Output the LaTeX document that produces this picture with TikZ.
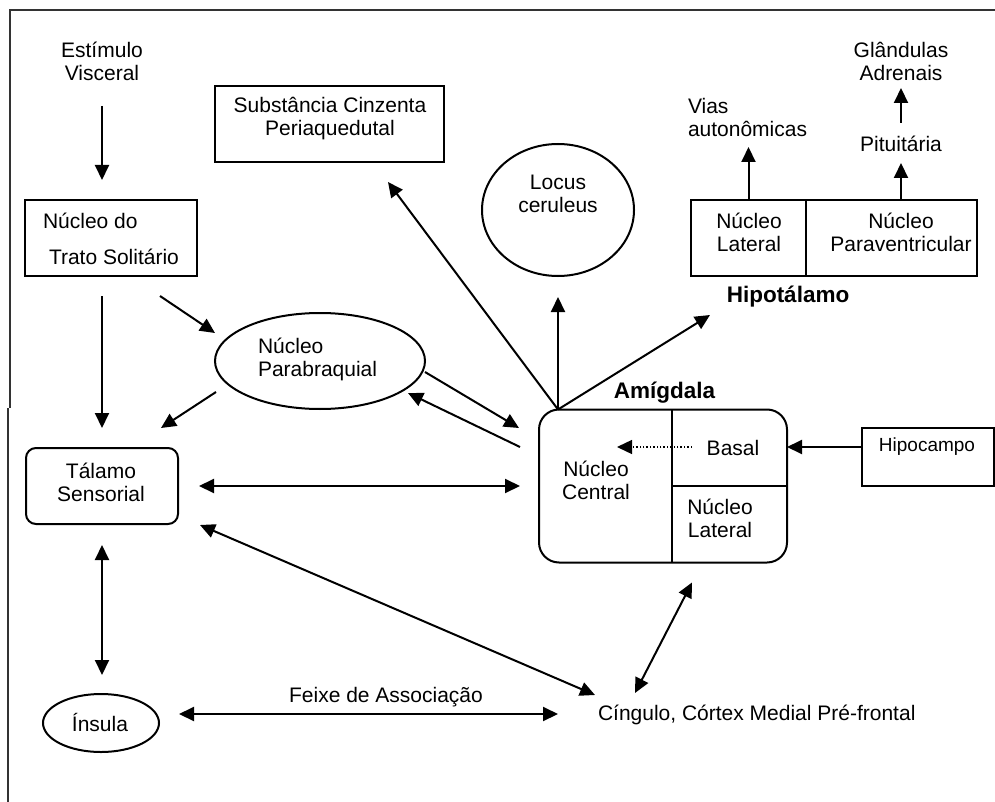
\documentclass[tikz,border=0pt]{standalone}
\usepackage{fontspec}
\setmainfont{Liberation Sans}
\usetikzlibrary{arrows.meta,calc,shapes.geometric}
\begin{document}
\begin{tikzpicture}[x=1pt,y=-1pt,
  every node/.style={inner sep=0pt,outer sep=0pt},
  txt/.style={font=\fontsize{21}{23}\selectfont,align=center},
  txtl/.style={font=\fontsize{21}{23}\selectfont,align=left},
  bld/.style={font=\fontsize{22.5}{25}\selectfont\bfseries},
  boxn/.style={draw,line width=2pt},
  arr/.style={line width=2pt,-{Triangle[length=15pt,width=14pt]}},
  darr/.style={line width=2pt,{Triangle[length=15pt,width=14pt]}-{Triangle[length=15pt,width=14pt]}},
  dotarr/.style={line width=1.4pt,dotted,-{Triangle[length=15pt,width=14pt]}},
  frame/.style={line width=1.3pt,black!80}]
\useasboundingbox (0,0) rectangle (995,802);
% frame
\draw[frame] (995,10) -- (10,10) -- (10,408);
\draw[frame] (8,408) -- (8,802);
% nodes
\node[txt] (est) at (102,61.5) {Estímulo\\Visceral};
\node[boxn,minimum width=172,minimum height=76] (nts) at (111,238) {};
\node[txtl,anchor=west] (ntsa) at (43,221) {Núcleo do};
\node[txtl,anchor=west] (ntsb) at (49,257) {Trato Solitário};
\node[boxn,minimum width=229,minimum height=76] (pag) at (329.5,124) {};
\node[txt] (pagt) at (330,119) {Substância Cinzenta\\Periaquedutal};
\node[boxn,ellipse,minimum width=152,minimum height=132] (lc) at (558,210) {};
\node[txt] (lct) at (558,194) {Locus\\ceruleus};
\node[boxn,minimum width=115,minimum height=76] (hlat) at (748.5,238) {};
\node[boxn,minimum width=171,minimum height=76] (hpv) at (891.5,238) {};
\node[txt] (hlatt) at (749,232) {Núcleo\\Lateral};
\node[txt] (hpvt) at (901,232) {Núcleo\\Paraventricular};
\node[bld] (hipl) at (788,297) {Hipotálamo};
\node[txtl,anchor=west] (vias) at (688,117.5) {Vias\\autonômicas};
\node[txt] (pit) at (901,144) {Pituitária};
\node[txt] (glan) at (901,61.5) {Glândulas\\Adrenais};
\node[boxn,ellipse,minimum width=210,minimum height=96] (pb) at (320,361) {};
\node[txtl,anchor=west] (pbt) at (258,359) {Núcleo\\Parabraquial};
\node[boxn,rounded corners=10pt,minimum width=152,minimum height=76] (tal) at (102,486) {};
\node[txt] (talt) at (101,482) {Tálamo\\Sensorial};
\node[boxn,rounded corners=20pt,minimum width=248,minimum height=153] (amy) at (663,486) {};
\draw[line width=2pt] ($(amy.north)+(9,0)$) -- ($(amy.south)+(9,0)$);
\draw[line width=2pt] ($(amy.center)+(9,0)$) -- (amy.east);
\node[bld] (amyl) at (664.5,393) {Amígdala};
\node[txt] (basal) at (733,448) {Basal};
\node[txt] (cent) at (596,480) {Núcleo\\Central};
\node[txt] (alat) at (720,518) {Núcleo\\Lateral};
\node[boxn,minimum width=132,minimum height=58] (hipo) at (928,457) {};
\node[font=\fontsize{19}{21}\selectfont] (hipot) at (927,447) {Hipocampo};
\node[boxn,ellipse,minimum width=116,minimum height=58] (ins) at (101,723) {};
\node[txt] (inst) at (100,722) {Ínsula};
\node[txt] (feixe) at (386,697) {Feixe de Associação};
\node[txt,anchor=west] (cing) at (598,715) {Cíngulo, Córtex Medial Pré-frontal};
% connectors
\draw[arr] ($(est.center)+(0,44.5)$) -- ($(nts.north)+(-9,-20)$);
\draw[arr] ($(nts.south)+(-9,20)$) -- ($(tal.north)+(0,-20)$);
\draw[arr] ($(nts.south)+(49,20)$) -- ($(pb.west)+(0,-28)$);
\draw[arr] ($(pb.center)+(-104,31)$) -- ($(tal.north)+(59,-20)$);
\draw[arr] ($(pb.center)+(105,11)$) -- ($(amy.west)+(-20,-58)$);
\draw[arr] ($(amy.west)+(-19,-39)$) -- ($(pb.center)+(88,32)$);
\draw[darr] ($(tal.east)+(21,0)$) -- ($(amy.west)+(-19,0)$);
\draw[darr] ($(tal.south east)+(22,1)$) -- ($(cing.west)+(-3,-20)$);
\draw[darr] ($(tal.south)+(0,21)$) -- ($(ins.north)+(1,-19)$);
\draw[darr] ($(ins.east)+(20,-9)$) -- ($(cing.west)+(-40,-1)$);
\draw[darr] ($(amy.south)+(29,20)$) -- ($(cing.west)+(37,-22)$);
\draw[arr] ($(amy.north west)+(19,0)$) -- ($(pag.south)+(58.5,20)$);
\draw[arr] ($(amy.north west)+(19,0)$) -- ($(lc.south)+(0,21)$);
\draw[arr] ($(amy.north west)+(19,0)$) -- ($(hlat.south)+(-38.5,39)$);
\draw[arr] ($(hipo.west)+(0,-10)$) -- ($(amy.east)+(0,-39)$);
\draw[dotarr] ($(basal.center)+(-41,-1)$) -- ($(amy.center)+(-46,-39)$);
\draw[arr] (hlat.north) -- ($(hlat.north)+(0,-53)$);
\draw[arr] (pit.center |- hpv.north) -- ($(pit.center)+(0,19)$);
\draw[arr] ($(pit.center)+(0,-21)$) -- ($(glan.center)+(0,26.5)$);
\end{tikzpicture}
\end{document}
